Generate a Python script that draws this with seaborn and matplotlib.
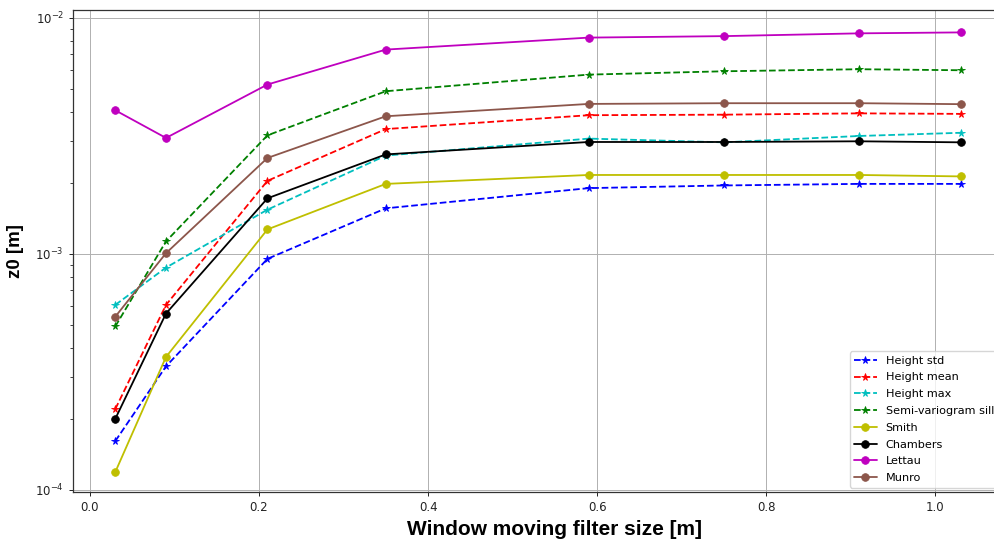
import numpy as np
import matplotlib
matplotlib.use("Agg")
import matplotlib.pyplot as plt
import seaborn as sns

# DATA
window_size = [0.03, 0.09, 0.21, 0.35, 0.59, 0.75, 0.91, 1.03]

height_std = [1.61e-4, 3.34e-4, 9.53e-4, 1.56e-3, 1.90e-3, 1.95e-3, 1.98e-3, 1.98e-3]
height_mean = [2.20e-4, 6.08e-4, 2.04e-3, 3.38e-3, 3.87e-3, 3.89e-3, 3.94e-3, 3.92e-3]
height_max = [6.08e-4, 8.75e-4, 1.54e-3, 2.61e-3, 3.08e-3, 2.97e-3, 3.16e-3, 3.26e-3]
semivar_sill = [4.93e-4, 1.13e-3, 3.18e-3, 4.89e-3, 5.75e-3, 5.94e-3, 6.06e-3, 6.00e-3]
smith = [1.19e-4, 3.66e-4, 1.27e-3, 1.98e-3, 2.16e-3, 2.16e-3, 2.16e-3, 2.13e-3]
chambers = [2.00e-4, 5.59e-4, 1.72e-3, 2.64e-3, 2.98e-3, 2.98e-3, 3.00e-3, 2.97e-3]
lettau = [4.06e-3, 3.10e-3, 5.22e-3, 7.34e-3, 8.25e-3, 8.37e-3, 8.60e-3, 8.68e-3]
munro = [5.42e-4, 1.007e-3, 2.55e-3, 3.83e-3, 4.32e-3, 4.35e-3, 4.35e-3, 4.31e-3]

# (label, values, color, marker, linestyle)
series = [
    ("Height std", height_std, "b", "*", "--"),
    ("Height mean", height_mean, "r", "*", "--"),
    ("Height max", height_max, "c", "*", "--"),
    ("Semi-variogram sill", semivar_sill, "g", "*", "--"),
    ("Smith", smith, "y", "o", "-"),
    ("Chambers", chambers, "k", "o", "-"),
    ("Lettau", lettau, "m", "o", "-"),
    ("Munro", munro, "#8c564b", "o", "-"),
]

sns.set_style("ticks")
plt.rcParams["font.family"] = ["DejaVu Sans"]
plt.rcParams["text.color"] = "black"
plt.rcParams["axes.labelcolor"] = "black"
plt.rcParams["xtick.color"] = "#222222"
plt.rcParams["ytick.color"] = "#222222"

fig = plt.figure(figsize=(9.95, 5.47), dpi=100)
ax = fig.add_axes([73 / 995, 55 / 547, 930 / 995, 482 / 547])

for label, vals, color, marker, ls in series:
    sns.lineplot(x=window_size, y=vals, ax=ax, color=color, marker=marker,
                 linestyle=ls, linewidth=1.3, markersize=5.5,
                 markeredgewidth=0.6, markeredgecolor=color, label=label)

ax.set_yscale("log")
ax.set_xlim(-0.02, 1.08)
ax.set_ylim(0.98e-4, 1.08e-2)
ax.set_xticks([0.0, 0.2, 0.4, 0.6, 0.8, 1.0])
ax.tick_params(axis="both", which="major", labelsize=8.5, length=3, width=0.7)
ax.tick_params(axis="y", which="minor", length=2, width=0.6)

ax.grid(True, which="major", color="#b0b0b0", linewidth=0.7)
for side in ["left", "bottom", "top", "right"]:
    ax.spines[side].set_visible(True)
    ax.spines[side].set_color("#333333")
    ax.spines[side].set_linewidth(0.9)

ax.set_xlabel("Window moving filter size [m]", fontsize=15, fontweight="bold",
              family=["Liberation Sans", "DejaVu Sans"])
ax.set_ylabel("z0 [m]", fontsize=13.5, fontweight="bold",
              family=["Liberation Sans", "DejaVu Sans"])
ax.xaxis.set_label_coords((555 - 73) / 930, -0.058)
ax.yaxis.set_label_coords(-0.053, 0.5)

ax.legend(loc="lower right", fontsize=8.1, frameon=True, framealpha=0.8,
          edgecolor="#cccccc", fancybox=True, borderaxespad=0.4,
          labelspacing=0.6)

plt.savefig("out.png", dpi=100)
plt.close()
